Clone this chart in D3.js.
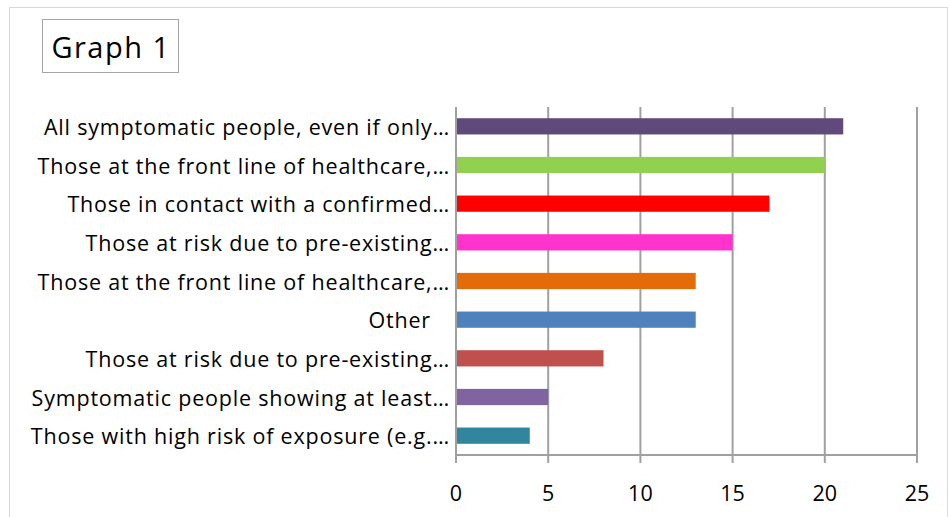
<!DOCTYPE html>
<html>
<head>
<meta charset="utf-8">
<script src="https://cdn.jsdelivr.net/npm/d3@7"></script>
<style>
  body { margin: 0; background: #fff; }
  text { font-family: "Open Sans", "Noto Sans", sans-serif; fill: #000; }
</style>
</head>
<body>
<div id="container"></div>
<script>
// chart data, top to bottom
const categories = [
  "All symptomatic people, even if only…",
  "Those at the front line of healthcare,…",
  "Those in contact with a confirmed…",
  "Those at risk due to pre-existing…",
  "Those at the front line of healthcare,…",
  "Other   ",
  "Those at risk due to pre-existing…",
  "Symptomatic people showing at least…",
  "Those with high risk of exposure (e.g.…"
];
const values = [21, 20, 17, 15, 13, 13, 8, 5, 4];
const barColors = ["#604A7B", "#92D050", "#FF0000", "#FF33CC", "#E36C09",
                   "#4F81BD", "#C0504D", "#8064A2", "#31859C"];
const xTicks = [0, 5, 10, 15, 20, 25];

const width = 949, height = 517;
const marginLeft = 456, marginRight = 32, marginTop = 107, marginBottom = 62;

const svg = d3.select("#container").append("svg")
    .attr("width", width)
    .attr("height", height)
    .attr("viewBox", [0, 0, width, height]);

// outer frame
svg.append("rect")
    .attr("x", 9.5).attr("y", 7.5)
    .attr("width", width - 11).attr("height", height)
    .attr("fill", "none").attr("stroke", "#d9d9d9");

// title box
svg.append("rect")
    .attr("x", 42.5).attr("y", 19.5)
    .attr("width", 136).attr("height", 53)
    .attr("fill", "#fff").attr("stroke", "#a6a6a6");
svg.append("text")
    .attr("x", 111).attr("y", 46)
    .attr("text-anchor", "middle")
    .attr("dominant-baseline", "central")
    .attr("font-size", 29)
    .attr("letter-spacing", 1.5)
    .text("Graph 1");

const x = d3.scaleLinear()
    .domain([0, 25])
    .range([marginLeft, width - marginRight]);

const y = d3.scaleBand()
    .domain(d3.range(categories.length))
    .range([marginTop, height - marginBottom])
    .paddingInner(0.58)
    .paddingOuter(0.29);

// vertical gridlines
svg.append("g")
  .selectAll("line")
  .data(xTicks)
  .join("line")
    .attr("x1", d => x(d)).attr("x2", d => x(d))
    .attr("y1", marginTop).attr("y2", height - marginBottom + 8)
    .attr("stroke", "#a0a0a0")
    .attr("stroke-width", 2);

// baseline
svg.append("line")
    .attr("x1", x(0)).attr("x2", x(25))
    .attr("y1", height - marginBottom).attr("y2", height - marginBottom)
    .attr("stroke", "#a0a0a0")
    .attr("stroke-width", 2);

// bars
svg.append("g")
  .selectAll("rect")
  .data(values)
  .join("rect")
    .attr("x", x(0) + 1)
    .attr("y", (d, i) => y(i))
    .attr("width", d => x(d) - x(0) - 1)
    .attr("height", y.bandwidth())
    .attr("fill", (d, i) => barColors[i]);

// category labels
svg.append("g")
  .selectAll("text")
  .data(categories)
  .join("text")
    .attr("x", marginLeft - 6)
    .attr("y", (d, i) => y(i) + y.bandwidth() / 2)
    .attr("text-anchor", "end")
    .attr("dominant-baseline", "central")
    .attr("font-size", 21.5)
    .attr("letter-spacing", 0.8)
    .style("white-space", "pre")
    .text(d => d);

// tick labels
svg.append("g")
  .selectAll("text")
  .data(xTicks)
  .join("text")
    .attr("x", d => x(d))
    .attr("y", 492)
    .attr("text-anchor", "middle")
    .attr("dominant-baseline", "central")
    .attr("font-size", 21.5)
    .text(d => d);
</script>
</body>
</html>
